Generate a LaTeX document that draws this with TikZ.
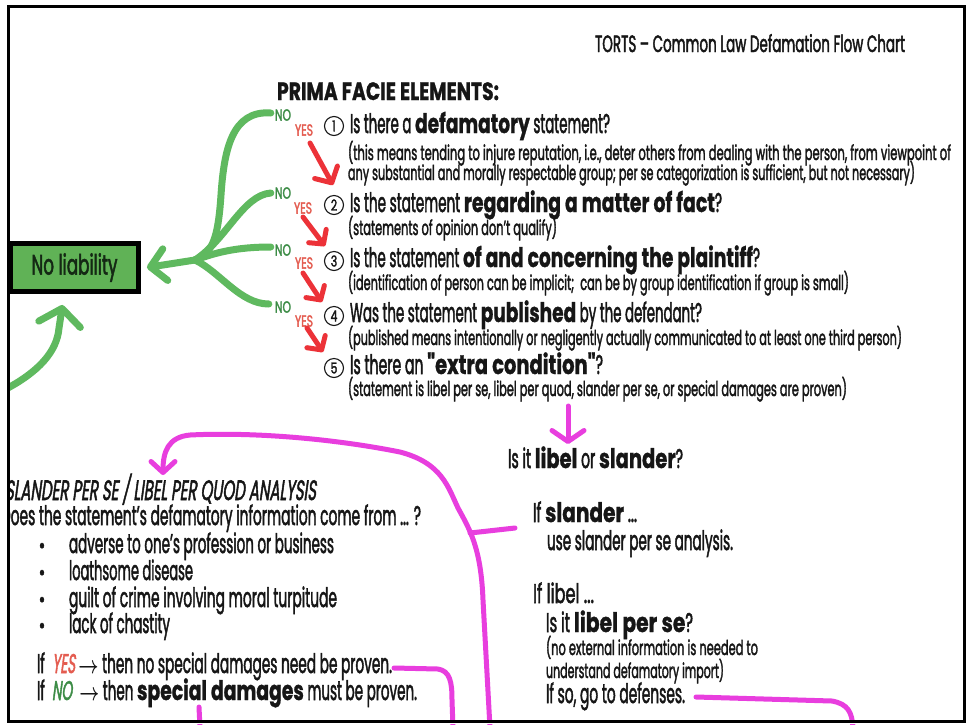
\documentclass[tikz,border=0pt]{standalone}
\usepackage{fontspec}
\usepackage{graphicx}
\usetikzlibrary{arrows.meta,calc}
\setmainfont{Poppins}[FakeStretch=0.72,FakeBold=2]
\newfontfamily\widefont{Poppins}[FakeBold=1.2]
\newfontfamily\slfont{Poppins}[FakeSlant=0.18,FakeStretch=0.72,FakeBold=2]
\newcommand\hv[1]{{\widefont\bfseries #1}}
\newcommand\fw[2]{\resizebox{#1}{\height}{#2}}
\newcommand\fsz[1]{\fontsize{#1}{#1}\selectfont}
\newcommand\barrow{{\boldmath$\rightarrow$}}
\definecolor{ink}{RGB}{22,22,22}
\definecolor{mk}{RGB}{95,185,95}
\definecolor{boxgreen}{RGB}{96,178,86}
\definecolor{nocol}{RGB}{60,140,70}
\definecolor{yescol}{RGB}{228,92,80}
\definecolor{redarrow}{RGB}{236,50,56}
\definecolor{magline}{RGB}{232,62,222}
\begin{document}
\begin{tikzpicture}[x=1pt,y=-1pt,
  txt/.style={anchor=base west, inner sep=0pt, outer sep=0pt, text=ink},
  qtext/.style={txt, font=\fsz{27}},
  subtext/.style={txt, font=\fsz{20.5}},
  nolab/.style={inner sep=0pt, text=nocol, font=\fsz{16}},
  yeslab/.style={inner sep=0pt, text=yescol, font=\fsz{16}},
  cnum/.style={circle, draw=ink, line width=1.1pt, minimum size=19pt, inner sep=0pt, text=ink, font=\fsz{15}},
  greenline/.style={draw=mk, line width=7pt, line cap=round, line join=round},
  redarr/.style={draw=redarrow, line width=5pt, line cap=round, -{Straight Barb[round,length=10pt,width=22pt]}},
  mag/.style={draw=magline, line width=5pt, line cap=round, line join=round},
  libbox/.style={draw=black, line width=5pt, fill=boxgreen, minimum width=128pt, minimum height=48pt, inner sep=0pt, text={rgb,255:red,20;green,40;blue,20}, font=\fsz{28}}
]
\useasboundingbox (0,0) rectangle (969,724);
\fill[white] (0,0) rectangle (969,724);

% title and heading
\node[txt, font=\fsz{23.5}] (title) at (595,52) {\fw{310pt}{TORTS -- Common Law Defamation Flow Chart}};
\node[txt, font=\fsz{25}] (prima) at (277,100) {\fw{222pt}{\hv{PRIMA FACIE ELEMENTS:}}};

% numbered elements
\node[cnum] (c1) at (334,126) {1};
\node[cnum] (c2) at (334,205) {2};
\node[cnum] (c3) at (334,261) {3};
\node[cnum] (c4) at (334,316) {4};
\node[cnum] (c5) at (334,368) {5};

\node[qtext] (q1) at (350,133) {\fw{260pt}{Is there a \hv{defamatory} statement?}};
\node[subtext] (s1a) at (348,160) {\fw{603pt}{(this means tending to injure reputation, i.e., deter others from dealing with the person, from viewpoint of}};
\node[subtext] (s1b) at (348,180) {\fw{567pt}{any substantial and morally respectable group; per se categorization is sufficient, but not necessary)}};
\node[qtext] (q2) at (350,212) {\fw{372pt}{Is the statement \hv{regarding a matter of fact}?}};
\node[subtext] (s2) at (348,235) {\fw{209pt}{(statements of opinion don’t qualify)}};
\node[qtext] (q3) at (350,267) {\fw{410pt}{Is the statement \hv{of and concerning the plaintiff}?}};
\node[subtext] (s3) at (348,290) {\fw{501pt}{(identification of person can be implicit;\ \ can be by group identification if group is small)}};
\node[qtext] (q4) at (350,322) {\fw{352pt}{Was the statement \hv{published} by the defendant?}};
\node[subtext] (s4) at (348,345) {\fw{554pt}{(published means intentionally or negligently actually communicated to at least one third person)}};
\node[qtext] (q5) at (350,374) {\fw{253pt}{Is there an \hv{"extra condition"}?}};
\node[subtext] (s5) at (348,396) {\fw{499pt}{(statement is libel per se, libel per quod, slander per se, or special damages are proven)}};

% NO / YES labels
\node[nolab] (no1) at (283,115) {\fw{16pt}{NO}};
\node[nolab] (no2) at (283,193) {\fw{16pt}{NO}};
\node[nolab] (no3) at (283,250) {\fw{16pt}{NO}};
\node[nolab] (no4) at (283,307) {\fw{16pt}{NO}};
\node[yeslab] (yes1) at (304,130) {\fw{18pt}{YES}};
\node[yeslab] (yes2) at (303,208) {\fw{18pt}{YES}};
\node[yeslab] (yes3) at (304,263) {\fw{18pt}{YES}};
\node[yeslab] (yes4) at (304,321) {\fw{18pt}{YES}};

% No liability box
\node[libbox] (noliab) at (74.5,267.5) {\fw{86pt}{No liability}};

% right column
\node[qtext] (lorS) at (508,468) {\fw{175pt}{Is it \hv{libel} or \hv{slander}?}};
\node[qtext] (ifsl) at (533,522) {\fw{104pt}{If \hv{slander} ...}};
\node[qtext] (usesl) at (547,550) {\fw{186pt}{use slander per se analysis.}};
\node[qtext] (iflib) at (533,603) {\fw{61pt}{If libel ...}};
\node[qtext] (libps) at (546,632) {\fw{147pt}{Is it \hv{libel per se}?}};
\node[subtext] (noext) at (546,655) {\fw{212pt}{(no external information is needed to}};
\node[subtext] (undst) at (546,678) {\fw{178pt}{understand defamatory import)}};
\node[qtext] (ifso) at (546,703) {\fw{139pt}{If so, go to defenses.}};

% left column
\node[txt, font=\fsz{28}] (slhead) at (5,500) {\fw{311pt}{\slfont SLANDER PER SE / LIBEL PER QUOD ANALYSIS}};
\node[qtext] (does) at (1,525) {\fw{420pt}{Does the statement’s defamatory information come from ... ?}};
\foreach \yy/\nm in {553/d1,580/d2,607/d3,633/d4}
  \node[anchor=base, inner sep=0pt, text=ink, font=\fsz{22}] (\nm) at (42,\yy) {•};
\node[qtext] (b1) at (69,553) {\fw{265pt}{adverse to one’s profession or business}};
\node[qtext] (b2) at (69,580) {\fw{124pt}{loathsome disease}};
\node[qtext] (b3) at (69,607) {\fw{268pt}{guilt of crime involving moral turpitude}};
\node[qtext] (b4) at (69,633) {\fw{101pt}{lack of chastity}};
\node[qtext] (ifyes) at (37,673) {\fw{355pt}{If\ \ {\slfont\color{yescol}YES}\,\barrow\ then no special damages need be proven.}};
\node[qtext] (ifno) at (37,700) {\fw{380pt}{If\ \ {\slfont\color{nocol}NO}\ \ \barrow\ then \hv{special damages} must be proven.}};

% green tree into No liability
\coordinate (gm) at (195,260);
\draw[greenline] ($(no1.west)+(-4,-2)$) .. controls (232,110) and (224,150) .. (221,195) .. controls (218,240) and (212,253) .. (gm);
\draw[greenline] ($(no2.west)+(-4,0)$) .. controls (243,195) and (226,240) .. (gm);
\draw[greenline] ($(no3.west)+(-4,-3)$) .. controls (235,247) and (215,253) .. (gm);
\draw[greenline] ($(no4.west)+(-6,-3)$) .. controls (240,304) and (220,272) .. (gm);
\draw[greenline, -{Straight Barb[round,length=15pt,width=32pt]}] (gm) -- ($(noliab.east)+(6,0)$);

% green arrow from below
\coordinate (gbot) at (6,389);
\draw[greenline, -{Straight Barb[round,length=16pt,width=42pt]}] (gbot) .. controls (38,372) and (57,352) .. (59,328) -- ($(noliab.south)+(-12,11)$);

% red YES arrows
\draw[redarr, -{Straight Barb[round,length=12pt,width=26pt]}] ($(yes1.center)+(6,13)$) -- ($(c2.center)+(-1,-20)$);
\draw[redarr] ($(yes2.center)+(0,9)$) -- ($(c3.center)+(-9,-15)$);
\draw[redarr] ($(yes3.center)+(-1,10)$) -- ($(c4.center)+(-12,-14)$);
\draw[redarr] ($(yes4.center)+(3,7)$) -- ($(c5.center)+(-11,-16)$);

% magenta connectors
\draw[mag, -{Straight Barb[round,length=11pt,width=32pt]}] ($(s5.base west)+(220,10)$) -- ($(lorS.base west)+(60,-24)$);
\coordinate (m2bot) at (490,728);
\draw[mag, -{Straight Barb[round,length=11pt,width=24pt]}] (m2bot) -- (483,600) .. controls (481,548) and (470,530) .. (458,508) .. controls (448,487) and (442,463) .. (400,452) .. controls (330,438) and (250,432) .. (190,435) .. controls (168,437) and (163,452) .. ($(slhead.base west)+(158,-25)$);
\draw[mag] ($(ifsl.base west)+(-18,6)$) -- (470,533);
\coordinate (m3bot) at (453,728);
\draw[mag] ($(ifyes.base east)+(2,-5)$) -- (438,669) .. controls (450,671) and (452,682) .. (452,700) -- (m3bot);
\coordinate (m4bot) at (200,728);
\draw[mag] ($(ifno.base west)+(162,7)$) -- (m4bot);
\coordinate (m5bot) at (853,728);
\draw[mag] ($(ifso.base east)+(11,-6)$) -- (832,701) .. controls (848,704) and (852,712) .. (m5bot);

% mask outside frame and frame
\fill[white] (0,0) rectangle (7,724);
\fill[white] (0,722.9) rectangle (969,724);
\draw[black, line width=3pt] (8.5,6.5) rectangle (964.5,721.5);
\end{tikzpicture}
\end{document}
